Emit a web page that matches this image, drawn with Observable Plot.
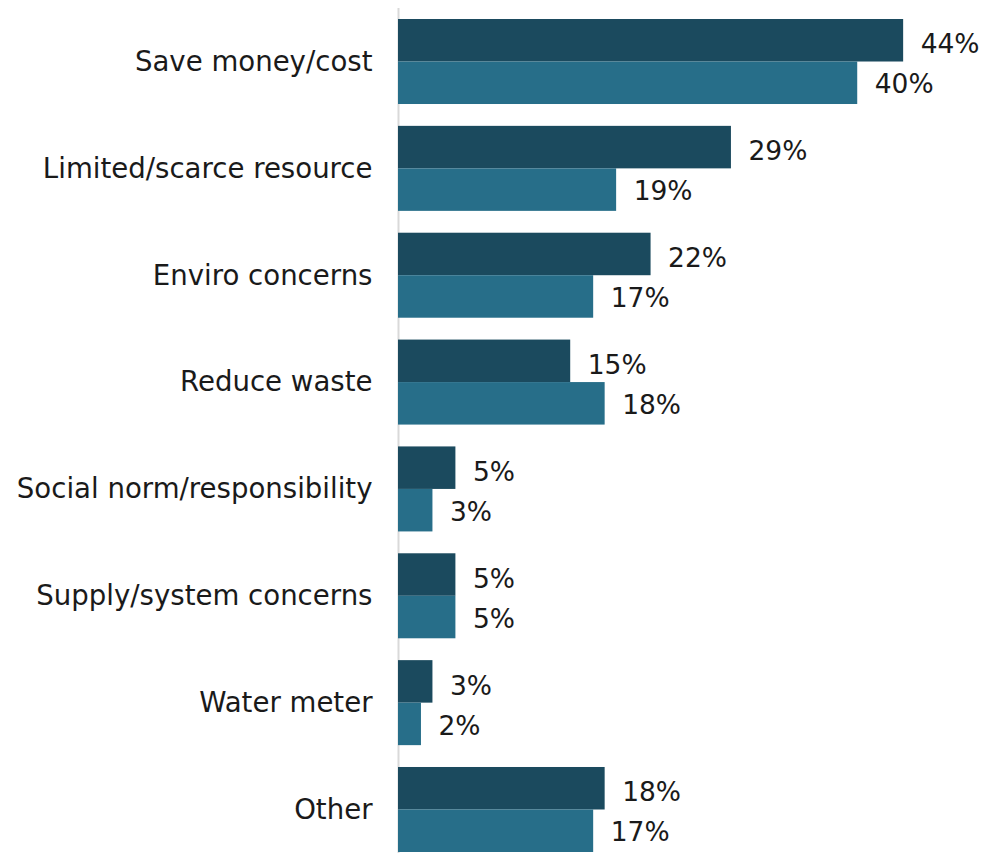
<!DOCTYPE html>
<html>
<head>
<meta charset="utf-8">
<script src="https://cdn.jsdelivr.net/npm/d3@7"></script>
<script src="https://cdn.jsdelivr.net/npm/@observablehq/plot@0.6"></script>
<style>
  html, body { margin: 0; padding: 0; background: #fff; }
  #chart svg { display: block; }
</style>
</head>
<body>
<div id="chart"></div>
<script>
// Reasons for saving water, two survey waves
const categories = [
  "Save money/cost",
  "Limited/scarce resource",
  "Enviro concerns",
  "Reduce waste",
  "Social norm/responsibility",
  "Supply/system concerns",
  "Water meter",
  "Other"
];
const seriesA = [44, 29, 22, 15, 5, 5, 3, 18]; // upper (dark) bar
const seriesB = [40, 19, 17, 18, 3, 5, 2, 17]; // lower (light) bar

const colorA = "#1b4a5e";
const colorB = "#276e89";
const font = "'DejaVu Sans', sans-serif";

const rowsA = categories.map((c, i) => ({category: c, value: seriesA[i]}));
const rowsB = categories.map((c, i) => ({category: c, value: seriesB[i]}));

const half = 42.5; // half of the band height, so each bar fills one half

const chart = Plot.plot({
  width: 985,
  height: 853,
  marginLeft: 398,
  marginRight: 0,
  marginTop: 8,
  marginBottom: 0,
  style: {fontFamily: font, fontSize: "27.6px", color: "#1a1a1a", background: "#fff"},
  x: {domain: [0, 51.13], axis: null},
  y: {
    domain: categories,
    range: [8, 863],
    round: false,
    paddingInner: 0.2045,
    paddingOuter: 0.103,
    tickSize: 0,
    tickPadding: 26,
    label: null
  },
  marks: [
    Plot.ruleX([0], {stroke: "#d9d9d9", strokeWidth: 2}),
    Plot.barX(rowsA, {x: "value", y: "category", fill: colorA, insetBottom: half}),
    Plot.barX(rowsB, {x: "value", y: "category", fill: colorB, insetTop: half}),
    Plot.text(rowsA, {x: "value", y: "category", text: d => d.value + "%", textAnchor: "start", dx: 17, dy: -17, fill: "#1a1a1a", fontSize: 26.5}),
    Plot.text(rowsB, {x: "value", y: "category", text: d => d.value + "%", textAnchor: "start", dx: 17, dy: 23, fill: "#1a1a1a", fontSize: 26.5})
  ]
});

document.getElementById("chart").appendChild(chart);
</script>
</body>
</html>
